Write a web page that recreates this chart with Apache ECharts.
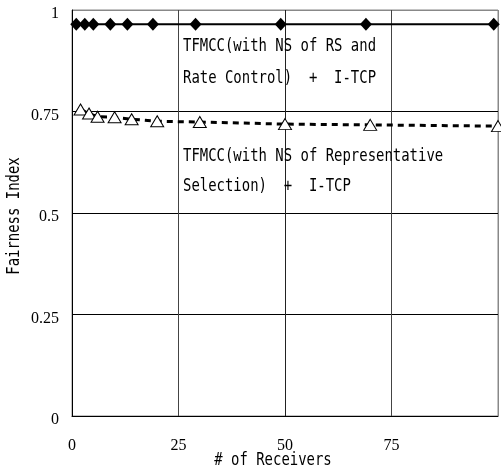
<!DOCTYPE html>
<html>
<head>
<meta charset="utf-8">
<script src="https://cdn.jsdelivr.net/npm/echarts@6/dist/echarts.min.js"></script>
<style>html,body{margin:0;padding:0;background:#fff}#c{width:501px;height:470px}</style>
</head>
<body>
<div id="c"></div>
<script>
// Data
var rcX = [1, 3, 5, 9, 13, 19, 29, 49, 69, 99];
var rcY = [0.965, 0.965, 0.965, 0.965, 0.965, 0.965, 0.965, 0.965, 0.965, 0.965];
var rsX = [2, 4, 6, 10, 14, 20, 30, 50, 70, 100];
var rsY = [0.755, 0.745, 0.737, 0.736, 0.731, 0.726, 0.724, 0.719, 0.717, 0.714];
var xTicks = [0, 25, 50, 75];
var yTicks = [0, 0.25, 0.5, 0.75, 1];
var label1 = ['TFMCC(with NS of RS and', 'Rate Control)  +  I-TCP'];
var label2 = ['TFMCC(with NS of Representative', 'Selection)  +  I-TCP'];
var xTitle = '# of Receivers';
var yTitle = 'Fairness Index';

function pairs(xs, ys) { return xs.map(function (x, i) { return [x, ys[i]]; }); }

var mono = '17px "DejaVu Sans Mono", "Liberation Mono", monospace';
function txt(t, x, y, extra) {
  var o = {
    type: 'text', x: x, y: y, scaleX: 0.82, z: 100,
    style: { text: t, font: mono, fill: '#000', textAlign: 'left', textVerticalAlign: 'middle', align: 'left', verticalAlign: 'middle' }
  };
  if (extra) { for (var k in extra) o[k] = extra[k]; }
  return o;
}

var chart = echarts.init(document.getElementById('c'), null, { renderer: 'canvas' });
chart.setOption({
  animation: false,
  backgroundColor: '#fff',
  grid: { left: 72, right: 3, top: 10, bottom: 54, show: true, borderColor: '#888', borderWidth: 1 },
  xAxis: {
    type: 'value', min: 0, max: 100, interval: 25,
    axisLine: { show: true, onZero: false, lineStyle: { color: '#000', width: 1 } },
    axisTick: { show: false },
    axisLabel: {
      margin: 22, color: '#000', fontFamily: 'Liberation Serif', fontSize: 16,
      formatter: function (v) { return xTicks.indexOf(v) >= 0 ? String(v) : ''; }
    },
    splitLine: { show: true, lineStyle: { color: ['#000', '#444', '#222', '#444', '#888'], width: 1 } }
  },
  yAxis: {
    type: 'value', min: 0, max: 1, interval: 0.25,
    axisLine: { show: true, onZero: false, lineStyle: { color: '#000', width: 1 } },
    axisTick: { show: false },
    axisLabel: {
      margin: 13, color: '#000', fontFamily: 'Liberation Serif', fontSize: 16,
      verticalAlign: 'top', lineHeight: 8,
      formatter: function (v) { var i = yTicks.indexOf(v); return i >= 0 ? String(yTicks[i]) : ''; }
    },
    splitLine: { show: true, lineStyle: { color: ['#000', '#000', '#000', '#000', '#888'], width: 1 } }
  },
  series: [
    {
      type: 'line', data: pairs(rcX, rcY), symbol: 'diamond', symbolSize: [12, 13],
      lineStyle: { color: '#000', width: 2 },
      itemStyle: { color: '#000', borderColor: '#000', borderWidth: 0 },
      z: 3
    },
    {
      type: 'line', data: pairs(rsX, rsY), symbol: 'triangle', symbolSize: [13, 11],
      lineStyle: { color: '#000', width: 3, type: [6, 5] },
      itemStyle: { color: '#fff', borderColor: '#000', borderWidth: 1 },
      z: 2
    }
  ],
  graphic: [
    txt(label1[0], 183, 47),
    txt(label1[1], 183, 79),
    txt(label2[0], 183, 157),
    txt(label2[1], 183, 187),
    txt(xTitle, 273, 461, { style: { text: xTitle, font: mono, fill: '#000', textAlign: 'center', textVerticalAlign: 'middle', align: 'center', verticalAlign: 'middle' } }),
    txt(yTitle, 15, 216, { rotation: Math.PI / 2, style: { text: yTitle, font: mono, fill: '#000', textAlign: 'center', textVerticalAlign: 'middle', align: 'center', verticalAlign: 'middle' } })
  ]
});
</script>
</body>
</html>
